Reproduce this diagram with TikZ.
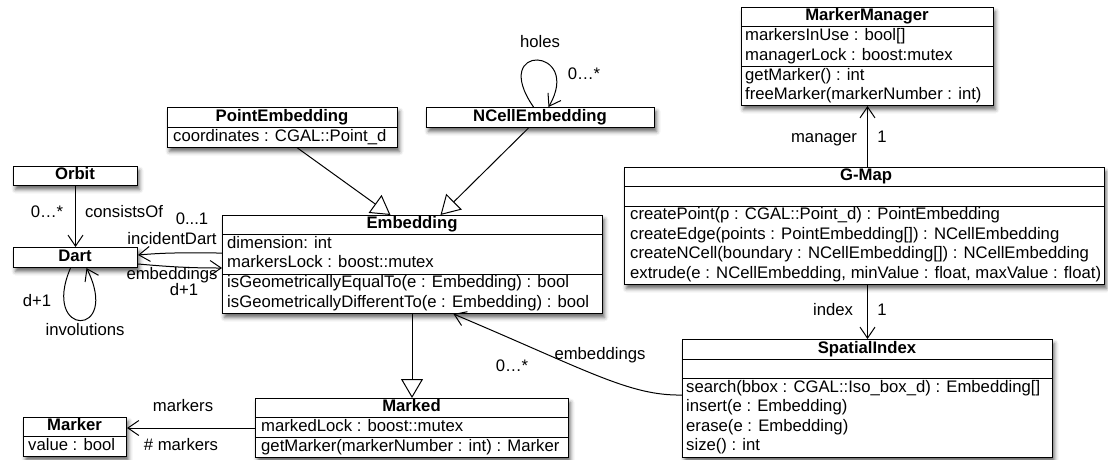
\documentclass[tikz,border=0pt]{standalone}
\usepackage{fontspec}
\setmainfont{Liberation Sans}
\usetikzlibrary{arrows.meta,calc,shadows.blur}
\begin{document}
\begin{tikzpicture}[x=1pt,y=-1pt,
  font=\fontsize{16.7}{19.5}\selectfont,
  cls/.style={draw, line width=1pt, fill=white, inner sep=0, anchor=north west,
    blur shadow={shadow xshift=2pt, shadow yshift=-4pt, shadow blur radius=4pt, shadow opacity=60}},
  ttl/.style={inner sep=0, font=\fontsize{16.7}{19.5}\selectfont\bfseries, text height=12pt, text depth=3.5pt},
  mem/.style={inner sep=0, anchor=west, text height=12pt, text depth=3.5pt},
  lbl/.style={inner sep=0, text height=12pt, text depth=3.5pt},
  sep/.style={line width=1pt},
  assoc/.style={line width=1pt, -{Straight Barb[length=11pt,width=15pt,line width=1pt]}},
  gen/.style={line width=1pt, -{Triangle[open,length=19pt,width=22pt,line width=1pt]}}
]
\useasboundingbox (0,0) rectangle (1108,459);

% Orbit
\node[cls, minimum width=124pt, minimum height=19pt] (orbit) at (13,166) {};
\node[ttl] (orbitT) at (75,175.5) {Orbit};
% Dart
\node[cls, minimum width=124pt, minimum height=20pt] (dart) at (13,247) {};
\node[ttl] (dartT) at (75,257) {Dart};
% PointEmbedding
\node[cls, minimum width=230pt, minimum height=40pt] (pe) at (167,107) {};
\node[ttl] (peT) at (282,117) {PointEmbedding};
\draw[sep] ($(pe.north west)+(0,20)$) -- ($(pe.north east)+(0,20)$);
\node[mem] (peA) at (173,137) {coordinates : CGAL::Point\_d};
% NCellEmbedding
\node[cls, minimum width=228pt, minimum height=20pt] (nce) at (426,107) {};
\node[ttl] (nceT) at (540,117) {NCellEmbedding};
% MarkerManager
\node[cls, minimum width=252pt, minimum height=98pt] (mm) at (741,7) {};
\node[ttl] (mmT) at (867,16.5) {MarkerManager};
\draw[sep] ($(mm.north west)+(0,19)$) -- ($(mm.north east)+(0,19)$);
\draw[sep] ($(mm.north west)+(0,59.5)$) -- ($(mm.north east)+(0,59.5)$);
\node[mem] (mmA1) at (745,36.5) {markersInUse : bool[]};
\node[mem] (mmA2) at (745,56) {managerLock : boost:mutex};
\node[mem] (mmM1) at (745,76) {getMarker() : int};
\node[mem] (mmM2) at (745,95.5) {freeMarker(markerNumber : int)};
% G-Map
\node[cls, minimum width=480pt, minimum height=117pt] (gmap) at (624,167) {};
\node[ttl] (gmapT) at (866,176.5) {G-Map};
\draw[sep] ($(gmap.north west)+(0,19)$) -- ($(gmap.north east)+(0,19)$);
\draw[sep] ($(gmap.north west)+(0,39)$) -- ($(gmap.north east)+(0,39)$);
\node[mem] (gm1) at (630,215.5) {createPoint(p : CGAL::Point\_d) : PointEmbedding};
\node[mem] (gm2) at (630,235) {createEdge(points : PointEmbedding[]) : NCellEmbedding};
\node[mem] (gm3) at (630,254.5) {createNCell(boundary : NCellEmbedding[]) : NCellEmbedding};
\node[mem] (gm4) at (630,274) {extrude(e : NCellEmbedding, minValue : float, maxValue : float)};
% SpatialIndex
\node[cls, minimum width=370pt, minimum height=118pt] (si) at (682,339) {};
\node[ttl] (siT) at (867,349) {SpatialIndex};
\draw[sep] ($(si.north west)+(0,20)$) -- ($(si.north east)+(0,20)$);
\draw[sep] ($(si.north west)+(0,39.5)$) -- ($(si.north east)+(0,39.5)$);
\node[mem] (si1) at (686,388) {search(bbox : CGAL::Iso\_box\_d) : Embedding[]};
\node[mem] (si2) at (686,407.5) {insert(e : Embedding)};
\node[mem] (si3) at (686,427) {erase(e : Embedding)};
\node[mem] (si4) at (686,446.5) {size() : int};
% Embedding
\node[cls, minimum width=380pt, minimum height=98pt] (emb) at (222,215) {};
\node[ttl] (embT) at (412,224.5) {Embedding};
\draw[sep] ($(emb.north west)+(0,19)$) -- ($(emb.north east)+(0,19)$);
\draw[sep] ($(emb.north west)+(0,59)$) -- ($(emb.north east)+(0,59)$);
\node[mem] (emb1) at (227,244) {dimension: int};
\node[mem] (emb2) at (227,263.5) {markersLock : boost::mutex};
\node[mem] (emb3) at (227,283.5) {isGeometricallyEqualTo(e : Embedding) : bool};
\node[mem] (emb4) at (227,303) {isGeometricallyDifferentTo(e : Embedding) : bool};
% Marked
\node[cls, minimum width=313pt, minimum height=59pt] (marked) at (255,398) {};
\node[ttl] (markedT) at (411.5,407.5) {Marked};
\draw[sep] ($(marked.north west)+(0,19)$) -- ($(marked.north east)+(0,19)$);
\draw[sep] ($(marked.north west)+(0,39)$) -- ($(marked.north east)+(0,39)$);
\node[mem] (marked1) at (261,427) {markedLock : boost::mutex};
\node[mem] (marked2) at (261,447) {getMarker(markerNumber : int) : Marker};
% Marker
\node[cls, minimum width=103pt, minimum height=39pt] (marker) at (23,417) {};
\node[ttl] (markerT) at (74.5,426.5) {Marker};
\draw[sep] ($(marker.north west)+(0,19.5)$) -- ($(marker.north east)+(0,19.5)$);
\node[mem] (marker1) at (28,446) {value : bool};

% connectors
\draw[assoc] (orbit) -- (dart);
\draw[assoc] (gmap.north -| mm.south) -- (mm.south);
\draw[assoc] (gmap.south -| si.north) -- (si.north);
\draw[gen] (emb.south -| marked.north) -- (marked.north);
\draw[assoc] (marked.west) -- (marker.east |- marked.west);
\draw[gen] ($(pe.south)+(15,0)$) -- ($(emb.north)+(-22,0)$);
\draw[gen] ($(nce.south)+(-12,0)$) -- ($(emb.north)+(28,0)$);
\draw[assoc] ($(emb.north west)+(0,38)$) to[out=180,in=5] ($(dart.north east)+(0,8)$);
\draw[assoc] ($(dart.north east)+(0,17)$) to[out=-5,in=180] ($(emb.north west)+(0,53)$);
\draw[assoc] ($(si.north west)+(0,56)$) .. controls +(-52,1) and +(135,57) .. ($(emb.south)+(41,0)$);
\draw[assoc] ($(dart.south)+(-5,0)$) .. controls +(-30,70) and +(35,70) .. ($(dart.south)+(11,0)$);
\draw[assoc] ($(nce.north)+(-7,0)$) .. controls +(-45,-65) and +(35,-60) .. ($(nce.north)+(8,0)$);

% labels
\node[lbl] (l1) at (47,213) {0…*};
\node[lbl] (l2) at (124,213) {consistsOf};
\node[lbl] (l3) at (192,220) {0...1};
\node[lbl] (l4) at (172,240) {incidentDart};
\node[lbl] (l5) at (172,275) {embeddings};
\node[lbl] (l6) at (184,291.5) {d+1};
\node[lbl] (l7) at (37,302) {d+1};
\node[lbl] (l8) at (85,331) {involutions};
\node[lbl] (l9) at (540,43) {holes};
\node[lbl] (l10) at (584,75) {0…*};
\node[lbl] (l11) at (824,138) {manager};
\node[lbl] (l12) at (882,138) {1};
\node[lbl] (l13) at (833,311) {index};
\node[lbl] (l14) at (882,311) {1};
\node[lbl] (l15) at (183,407) {markers};
\node[lbl] (l16) at (181,446) {\# markers};
\node[lbl] (l17) at (600,355) {embeddings};
\node[lbl] (l18) at (512,367) {0…*};
\end{tikzpicture}
\end{document}
